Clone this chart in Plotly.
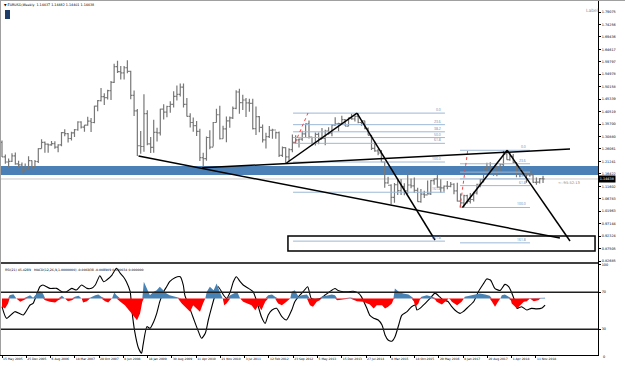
import pandas as pd
import numpy as np
import plotly.graph_objects as go

W, H = 625, 366
START = pd.Timestamp('2005-05-15')

# ---------------- data ----------------
months = pd.date_range('2005-05-01', periods=165, freq='MS')
first_open = 1.2860
price_close = [
    1.2300, 1.2100, 1.2125, 1.2340, 1.2025, 1.1990, 1.1790, 1.1840,
    1.2155, 1.1920, 1.2120, 1.2620, 1.2860, 1.2790, 1.2760, 1.2810, 1.2680, 1.2760, 1.3240, 1.3200,
    1.3010, 1.3230, 1.3350, 1.3650, 1.3450, 1.3530, 1.3680, 1.3630, 1.4260, 1.4480, 1.4630, 1.4590,
    1.4860, 1.5180, 1.5790, 1.5600, 1.5550, 1.5750, 1.5610, 1.4680, 1.4080, 1.2730, 1.2700, 1.3970,
    1.2800, 1.2670, 1.3250, 1.3230, 1.4150, 1.4030, 1.4250, 1.4330, 1.4640, 1.4720, 1.5000, 1.4330,
    1.3870, 1.3630, 1.3510, 1.3290, 1.2270, 1.2230, 1.3050, 1.2680, 1.3630, 1.3930, 1.3000, 1.3380,
    1.3690, 1.3810, 1.4180, 1.4810, 1.4400, 1.4500, 1.4390, 1.4370, 1.3390, 1.3860, 1.3440, 1.2960,
    1.3080, 1.3330, 1.3340, 1.3240, 1.2360, 1.2660, 1.2300, 1.2580, 1.2860, 1.2960, 1.2990, 1.3190,
    1.3580, 1.3060, 1.2820, 1.3170, 1.2990, 1.3010, 1.3300, 1.3220, 1.3530, 1.3580, 1.3590, 1.3740,
    1.3490, 1.3810, 1.3770, 1.3870, 1.3630, 1.3690, 1.3390, 1.3130, 1.2630, 1.2530, 1.2450, 1.2100,
    1.1290, 1.1200, 1.0730, 1.1220, 1.0990, 1.1150, 1.0980, 1.1210, 1.1180, 1.1000, 1.0570, 1.0860,
    1.0830, 1.0870, 1.1380, 1.1450, 1.1130, 1.1100, 1.1170, 1.1160, 1.1240, 1.0980, 1.0590, 1.0520,
    1.0800, 1.0580, 1.0650, 1.0900, 1.1240, 1.1420, 1.1840, 1.1910, 1.1810, 1.1650, 1.1900, 1.2000,
    1.2410, 1.2190, 1.2320, 1.2080, 1.1690, 1.1680, 1.1690, 1.1600, 1.1600, 1.1310, 1.1320, 1.1460,
    1.1444]
price_high = [
    1.2930, 1.2390, 1.2240, 1.2440, 1.2470, 1.2150, 1.2080, 1.2040,
    1.2320, 1.2160, 1.2180, 1.2630, 1.2980, 1.2890, 1.2820, 1.2910, 1.2900, 1.2790, 1.3260, 1.3370,
    1.3220, 1.3270, 1.3380, 1.3680, 1.3680, 1.3530, 1.3850, 1.3800, 1.4280, 1.4500, 1.4970, 1.4760,
    1.4900, 1.5240, 1.5900, 1.6020, 1.5820, 1.5820, 1.6038, 1.5630, 1.4870, 1.4150, 1.3300, 1.4720,
    1.4100, 1.3070, 1.3740, 1.3430, 1.4160, 1.4340, 1.4280, 1.4450, 1.4840, 1.5060, 1.5140, 1.5140,
    1.4580, 1.3990, 1.3820, 1.3690, 1.3390, 1.2460, 1.3090, 1.3330, 1.3650, 1.4160, 1.4280, 1.3500,
    1.3860, 1.3860, 1.4250, 1.4880, 1.4940, 1.4700, 1.4580, 1.4550, 1.4550, 1.4250, 1.3880, 1.3550,
    1.3230, 1.3490, 1.3390, 1.3280, 1.3280, 1.2700, 1.2670, 1.2630, 1.3170, 1.3140, 1.3010, 1.3310,
    1.3590, 1.3710, 1.3080, 1.3240, 1.3240, 1.3420, 1.3350, 1.3450, 1.3570, 1.3830, 1.3620, 1.3890,
    1.3770, 1.3820, 1.3970, 1.3900, 1.3993, 1.3680, 1.3700, 1.3440, 1.3150, 1.2890, 1.2600, 1.2570,
    1.2110, 1.1530, 1.1240, 1.1290, 1.1460, 1.1440, 1.1280, 1.1710, 1.1460, 1.1500, 1.1100, 1.1060,
    1.0990, 1.1380, 1.1400, 1.1460, 1.1620, 1.1430, 1.1190, 1.1370, 1.1330, 1.1280, 1.1300, 1.0880,
    1.0830, 1.0830, 1.0900, 1.0950, 1.1260, 1.1440, 1.1850, 1.2070, 1.2090, 1.1880, 1.1960, 1.2030,
    1.2540, 1.2555, 1.2480, 1.2410, 1.2100, 1.1850, 1.1790, 1.1730, 1.1820, 1.1620, 1.1500, 1.1480,
    1.1570]
price_low = [
    1.2290, 1.2030, 1.1870, 1.2100, 1.1990, 1.1870, 1.1640, 1.1740,
    1.1800, 1.1830, 1.1870, 1.2060, 1.2620, 1.2460, 1.2460, 1.2730, 1.2610, 1.2480, 1.2710, 1.3100,
    1.2860, 1.2930, 1.3070, 1.3310, 1.3400, 1.3270, 1.3500, 1.3260, 1.3600, 1.4070, 1.4440, 1.4310,
    1.4520, 1.4500, 1.5160, 1.5550, 1.5290, 1.5290, 1.5540, 1.4530, 1.3880, 1.2330, 1.2420, 1.2500,
    1.2750, 1.2450, 1.2460, 1.2890, 1.3130, 1.3750, 1.3830, 1.4010, 1.4210, 1.4480, 1.4640, 1.4210,
    1.3860, 1.3440, 1.3270, 1.3110, 1.2140, 1.1876, 1.2150, 1.2590, 1.2700, 1.3630, 1.2970, 1.3000,
    1.2870, 1.3430, 1.3770, 1.4140, 1.3970, 1.4110, 1.3840, 1.4050, 1.3360, 1.3150, 1.3250, 1.2860,
    1.2620, 1.3030, 1.3000, 1.3000, 1.2290, 1.2290, 1.2040, 1.2130, 1.2480, 1.2800, 1.2660, 1.2920,
    1.3070, 1.3010, 1.2740, 1.2740, 1.2790, 1.3020, 1.2750, 1.3160, 1.3100, 1.3500, 1.3290, 1.3540,
    1.3490, 1.3480, 1.3740, 1.3670, 1.3600, 1.3500, 1.3370, 1.3140, 1.2570, 1.2500, 1.2360, 1.2100,
    1.1100, 1.1260, 1.0460, 1.0520, 1.0820, 1.0820, 1.0810, 1.0850, 1.1080, 1.0900, 1.0560, 1.0520,
    1.0710, 1.0860, 1.0820, 1.1220, 1.1100, 1.0910, 1.0950, 1.1050, 1.1120, 1.0850, 1.0570, 1.0350,
    1.0340, 1.0490, 1.0490, 1.0570, 1.0840, 1.1120, 1.1310, 1.1660, 1.1720, 1.1570, 1.1550, 1.1720,
    1.1920, 1.2190, 1.2150, 1.2060, 1.1510, 1.1510, 1.1570, 1.1300, 1.1530, 1.1300, 1.1220, 1.1270,
    1.1290]

# RSI(21): (week index since first bar, value)
rsi_week = [0, 6, 17, 28, 37, 41, 50, 54, 63, 72, 79, 85, 92, 98, 105, 112, 118, 123, 129, 134,
            138, 145, 151, 156, 160, 164, 169, 171, 175, 180, 184, 186, 191, 195, 200, 204, 208, 213,
            217, 221, 228, 235, 239, 241, 246, 250, 254, 259, 263, 268, 272, 276, 281, 285, 292, 296,
            301, 305, 309, 314, 318, 325, 331, 336, 342, 347, 351, 356, 362, 369, 375, 382, 386, 391,
            397, 403, 408, 419, 426, 432, 439, 443, 450, 457, 463, 470, 474, 481, 485, 490, 496, 501,
            505, 509, 514, 518, 523, 527, 534, 540, 545, 547, 551, 558, 564, 571, 577, 582, 588, 593,
            597, 604, 608, 615, 622, 628, 635, 639, 644, 650, 657, 663, 668, 675, 679, 685, 692, 698,
            705, 712, 716]
rsi_val = [54.4, 41.8, 49.0, 45.4, 56.2, 58.0, 76.0, 77.8, 74.2, 74.2, 70.6, 70.6, 74.2, 72.4, 77.8,
           74.2, 74.2, 77.8, 87.9, 81.4, 83.2, 88.6, 95.9, 90.4, 86.8, 81.4, 70.6, 52.6, 27.4, 9.4,
           4.0, 13.0, 32.8, 31.0, 38.2, 47.2, 59.8, 70.6, 76.0, 81.4, 85.8, 86.8, 77.8, 67.0, 56.2,
           47.2, 38.2, 27.4, 20.2, 25.6, 40.0, 52.6, 67.0, 76.0, 67.0, 63.4, 70.6, 81.4, 86.8, 81.4,
           77.8, 74.2, 70.6, 59.8, 43.6, 36.4, 45.4, 50.8, 52.6, 43.6, 40.0, 50.8, 59.8, 65.2, 70.6,
           76.0, 63.0, 63.0, 67.0, 70.6, 74.0, 72.0, 70.6, 70.6, 71.0, 69.0, 65.0, 52.6, 45.0, 42.0,
           40.0, 34.6, 23.8, 18.4, 17.0, 21.6, 34.6, 45.0, 49.0, 54.4, 56.0, 50.8, 52.6, 58.0, 63.0,
           69.0, 65.0, 61.6, 60.0, 54.4, 50.8, 47.2, 49.0, 54.4, 60.0, 70.6, 79.6, 84.4, 83.2, 74.0,
           72.0, 78.5, 76.0, 63.0, 52.6, 54.4, 50.8, 52.6, 52.0, 53.0, 56.0]

# MACD(12,26,9) histogram: (week index, value)
macd_week = [0, 4, 8, 10, 15, 19, 24, 28, 33, 37, 41, 46, 50, 54, 57, 63, 70, 74, 79, 83, 87, 92, 96,
             101, 105, 107, 112, 116, 123, 127, 131, 136, 140, 145, 148, 151, 156, 162, 169, 173, 178,
             182, 185, 187, 191, 195, 200, 204, 208, 213, 217, 221, 228, 232, 237, 243, 248, 252, 257,
             261, 265, 268, 270, 274, 279, 283, 287, 291, 293, 296, 301, 305, 310, 314, 318, 323, 329,
             334, 338, 342, 347, 351, 356, 360, 364, 369, 375, 380, 382, 386, 391, 395, 402, 406, 410,
             415, 419, 421, 428, 435, 439, 442, 448, 459, 468, 476, 485, 490, 494, 501, 505, 509, 514,
             516, 518, 523, 529, 536, 540, 543, 545, 549, 551, 553, 560, 567, 571, 573, 580, 586, 589,
             591, 593, 600, 606, 609, 610, 617, 624, 630, 637, 643, 646, 650, 654, 657, 659, 663, 668,
             671, 672, 679, 683, 688, 692, 696, 701, 707, 710, 716]
macd_val = [-8.3, -10.0, -5.0, 3.3, 4.3, 0.0, -3.3, -1.7, 1.7, 3.3, 0.7, 5.0, 7.3, 5.0, -1.7, -3.3,
            -4.0, -1.7, 2.7, 0.0, -2.7, -1.7, 1.7, 2.7, 0.0, -4.0, -2.7, 0.7, 3.3, 4.0, 1.7, -2.7, -4.0,
            0.0, 6.0, 3.3, -3.3, -6.7, -13.3, -16.7, -21.7, -15.0, -3.3, 16.7, 10.0, 3.3, 6.7, 8.3,
            11.7, 8.3, 5.0, 3.3, 1.7, 0.7, -5.0, -10.0, -13.3, -6.7, -10.0, -13.3, -5.0, 0.0, 6.7,
            11.7, 8.3, 15.0, 6.7, 0.0, -6.7, -5.0, 3.3, 5.0, 6.7, 0.0, -3.3, -5.0, -6.7, -11.7, -6.7,
            -11.7, -3.3, 3.3, 4.0, 1.7, -5.0, -6.7, -3.3, 0.0, 6.7, 8.3, 1.7, 3.3, 4.0, -6.7, -8.3,
            -3.3, -1.7, 1.7, 2.7, 4.0, 3.3, -1.7, -1.0, 1.0, -2.7, -3.3, -6.0, -10.0, -6.7, -6.7,
            -10.0, -8.3, -5.0, -1.0, 10.0, 6.7, 5.0, 4.0, 1.7, -3.0, -8.3, -5.0, -1.0, 1.7, 3.3, 1.7,
            -1.0, -3.3, -6.0, -1.7, 0.7, -1.0, -3.3, -6.7, -3.3, 0.0, 1.7, 2.7, 4.0, 5.0, 4.0, 2.7,
            -3.3, -8.3, -3.3, 0.0, 3.3, 4.0, 1.7, -2.0, -5.0, -10.0, -6.7, -3.3, -2.7, 0.7, -2.7, -1.7,
            0.7, 0.7]

# axis labels
price_ticks = [1.79075, 1.74256, 1.69436, 1.64617, 1.59797, 1.54978, 1.50158, 1.45339, 1.40519,
               1.35700, 1.30880, 1.26061, 1.21241, 1.16422, 1.11602, 1.06783, 1.01963, 0.97144,
               0.92324, 0.87505, 0.82685]
time_labels = ['15 May 2005', '25 Dec 2005', '6 Aug 2006', '18 Mar 2007', '28 Oct 2007', '8 Jun 2008',
               '18 Jan 2009', '30 Aug 2009', '11 Apr 2010', '21 Nov 2010', '3 Jul 2011', '12 Feb 2012',
               '23 Sep 2012', '5 May 2013', '15 Dec 2013', '27 Jul 2014', '8 Mar 2015', '18 Oct 2015',
               '29 May 2016', '8 Jan 2017', '20 Aug 2017', '1 Apr 2018', '11 Nov 2018']
current_price = 1.14438

# chart objects (time, price)
trend_lines = [
    ('2008-10-26', 1.2330, '2019-06-20', 0.9159),
    ('2010-06-06', 1.1876, '2019-09-21', 1.2604),
    ('2012-07-22', 1.2062, '2014-05-04', 1.3993),
    ('2014-05-04', 1.3993, '2016-04-23', 0.9082),
    ('2017-01-01', 1.0340, '2018-02-18', 1.2555),
    ('2018-02-18', 1.2555, '2019-09-21', 0.9043),
]
zone = (1.1598, 1.1946)
box = ('2012-08-05', 0.8656, '2020-05-09', 0.9237)
fib_sets = [
    dict(t0='2012-09-21', t1='2016-07-24', p0=1.3993, p100=1.2100,
         levels=[0, 23.6, 38.2, 50.0, 61.8, 100.0, 161.8, 261.8],
         base=('2012-10-09', 1.2836, '2013-02-06', 1.3998)),
    dict(t0='2016-12-10', t1='2018-09-17', p0=1.2555, p100=1.0340,
         levels=[0, 23.6, 38.2, 50.0, 61.8, 100.0, 161.8],
         base=('2016-12-10', 1.0340, '2017-02-22', 1.2643)),
]

# ---------------- layout geometry ----------------
def py(v):
    return 1 - v / H

PLOT_R = 598 / W
MAIN_TOP, MAIN_BOT = 1, 263
SUB_TOP, SUB_BOT = 263, 355
ppp = (price_ticks[0] - price_ticks[-1]) / (261 - 12)
price_range = [price_ticks[0] - (MAIN_BOT - 12) * ppp, price_ticks[0] + (12 - MAIN_TOP) * ppp]
sub_range = [(357 - SUB_BOT) / 0.925, (357 - SUB_TOP) / 0.925]
macd_range = [-(SUB_BOT - 298.5), 298.5 - SUB_TOP]

wk = lambda w: START + pd.Timedelta(days=7 * w)
x_range = [wk(-2 / 0.7585), wk(596 / 0.7585)]
time_ticks = [wk(32 * i) for i in range(len(time_labels))]

fig = go.Figure()

# price bars
mid = months + pd.Timedelta(days=14)
opens = [first_open] + price_close[:-1]
fig.add_trace(go.Ohlc(x=mid, open=opens, high=price_high, low=price_low, close=price_close,
                      increasing=dict(line=dict(color='#787878', width=1.2)),
                      decreasing=dict(line=dict(color='#787878', width=1.2)),
                      tickwidth=0.5, hoverinfo='skip', showlegend=False, xaxis='x', yaxis='y'))

# MACD histogram
mv = np.array(macd_val)
mx = [wk(w) for w in macd_week]
fig.add_trace(go.Scatter(x=mx, y=np.clip(mv, 0, None), fill='tozeroy', fillcolor='#4682B4',
                         line=dict(width=0, color='#4682B4'), mode='lines', showlegend=False,
                         xaxis='x', yaxis='y3', hoverinfo='skip'))
fig.add_trace(go.Scatter(x=mx, y=np.clip(mv, None, 0), fill='tozeroy', fillcolor='#FF0000',
                         line=dict(width=0, color='#FF0000'), mode='lines', showlegend=False,
                         xaxis='x', yaxis='y3', hoverinfo='skip'))
# RSI
fig.add_trace(go.Scatter(x=[wk(w) for w in rsi_week], y=rsi_val, mode='lines',
                         line=dict(color='black', width=1.1, shape='spline', smoothing=0.6),
                         showlegend=False, xaxis='x', yaxis='y2', hoverinfo='skip'))

shapes = []
# supply / demand zone
shapes.append(dict(type='rect', xref='x', yref='y', x0=x_range[0], x1=x_range[1], y0=zone[0], y1=zone[1],
                   fillcolor='#4A80B6', line=dict(width=0), layer='below'))
# current price line
shapes.append(dict(type='line', xref='x', yref='y', x0=x_range[0], x1=x_range[1], y0=current_price,
                   y1=current_price, line=dict(color='#c8c8c8', width=1), layer='below'))
# fibonacci
for f in fib_sets:
    rng = f['p0'] - f['p100']
    for lv in f['levels']:
        p = f['p0'] - lv / 100 * rng
        shapes.append(dict(type='line', xref='x', yref='y', x0=f['t0'], x1=f['t1'], y0=p, y1=p,
                           line=dict(color='#9CB8D6', width=1)))
        fig.add_annotation(x=f['t1'], y=p, xref='x', yref='y', text=f'{lv:.1f}', showarrow=False,
                           xanchor='right', yanchor='bottom', font=dict(size=3.4, color='#5F86B0'),
                           xshift=-2, yshift=-1)
    b = f['base']
    shapes.append(dict(type='line', xref='x', yref='y', x0=b[0], y0=b[1], x1=b[2], y1=b[3],
                       line=dict(color='#FF4040', width=1, dash='dot')))
# trend lines
for t0, p0, t1, p1 in trend_lines:
    shapes.append(dict(type='line', xref='x', yref='y', x0=t0, y0=p0, x1=t1, y1=p1,
                       line=dict(color='black', width=1.5)))
shapes.append(dict(type='rect', xref='x', yref='y', x0=box[0], y0=box[1], x1=box[2], y1=box[3],
                   line=dict(color='black', width=1.5)))
# sub window levels
for lv in (70, 30):
    shapes.append(dict(type='line', xref='paper', yref='y2', x0=0, x1=PLOT_R, y0=lv, y1=lv,
                       line=dict(color='#202020', width=1.4)))
# frames
shapes.append(dict(type='line', xref='paper', yref='paper', x0=0, x1=PLOT_R, y0=py(SUB_TOP), y1=py(SUB_TOP),
                   line=dict(color='black', width=1.6)))
shapes.append(dict(type='line', xref='paper', yref='paper', x0=0, x1=1, y0=py(0.5), y1=py(0.5),
                   line=dict(color='#a0a0a0', width=1)))
shapes.append(dict(type='line', xref='paper', yref='paper', x0=0.5 / W, x1=0.5 / W, y0=py(0), y1=py(SUB_BOT),
                   line=dict(color='#a0a0a0', width=1)))
# one click icon
shapes.append(dict(type='rect', xref='paper', yref='paper', x0=5 / W, x1=10 / W, y0=py(19), y1=py(10),
                   fillcolor='#1F3F6A', line=dict(width=0)))

fig.update_layout(shapes=shapes)

ann = [
    dict(x=2 / W, y=py(1.5), text='▼ EURUSD,Weekly  1.14437 1.14482 1.14401 1.14438', font=dict(size=3.3)),
    dict(x=3 / W, y=py(265.5), text='RSI(21) 45.4289   MACD(12,26,9,1.0000000) -0.006938 -0.008909 0.000034 0.000000',
         font=dict(size=3.2)),
    dict(x=584 / W, y=py(6), text='Label', font=dict(size=4.5, color='#909090')),
    dict(x=556 / W, y=py(179), text='<--95:52:13', font=dict(size=3.6, color='#808080')),
    dict(x=601 / W, y=py(353), text='0', font=dict(size=3.4)),
]
for a in ann:
    fig.add_annotation(xref='paper', yref='paper', xanchor='left', yanchor='top', showarrow=False,
                       font=dict(family='DejaVu Sans', size=a['font']['size'],
                                 color=a['font'].get('color', 'black')),
                       x=a['x'], y=a['y'], text=a['text'])
fig.add_annotation(xref='paper', yref='y', x=PLOT_R, y=current_price, xanchor='left', yanchor='middle',
                   text=f'{current_price:.5f}', showarrow=False, bgcolor='black', borderpad=0.8,
                   font=dict(family='DejaVu Sans', size=3.4, color='white'))

tf = dict(family='DejaVu Sans', size=3.4, color='black')
xf = dict(family='DejaVu Sans', size=3.0, color='black')
fig.update_layout(
    width=W, height=H, margin=dict(l=0, r=0, t=0, b=0), paper_bgcolor='white', plot_bgcolor='white',
    showlegend=False, hovermode=False,
    xaxis=dict(domain=[0, PLOT_R], range=x_range, anchor='y2', showgrid=False, zeroline=False,
               tickvals=time_ticks, ticktext=time_labels, ticks='outside', ticklen=2, tickcolor='black',
               ticklabelposition='outside right', tickfont=xf, showline=True, linecolor='black',
               rangeslider=dict(visible=False), tickangle=0),
    yaxis=dict(domain=[py(MAIN_BOT), py(MAIN_TOP)], range=price_range, side='right', anchor='x',
               tickvals=price_ticks, ticktext=[f'{v:.5f}' for v in price_ticks], ticks='outside',
               ticklen=2, tickcolor='black', tickfont=tf, showline=True, linecolor='black',
               showgrid=False, zeroline=False),
    yaxis2=dict(domain=[py(SUB_BOT), py(SUB_TOP)], range=sub_range, side='right', anchor='x',
                tickvals=[100, 70, 30], ticktext=['100', '70', '30'], ticks='outside', ticklen=2,
                tickcolor='black', tickfont=tf, showline=True, linecolor='black', showgrid=False,
                zeroline=False),
    yaxis3=dict(overlaying='y2', range=macd_range, visible=False),
)
fig.write_html('out.html')
